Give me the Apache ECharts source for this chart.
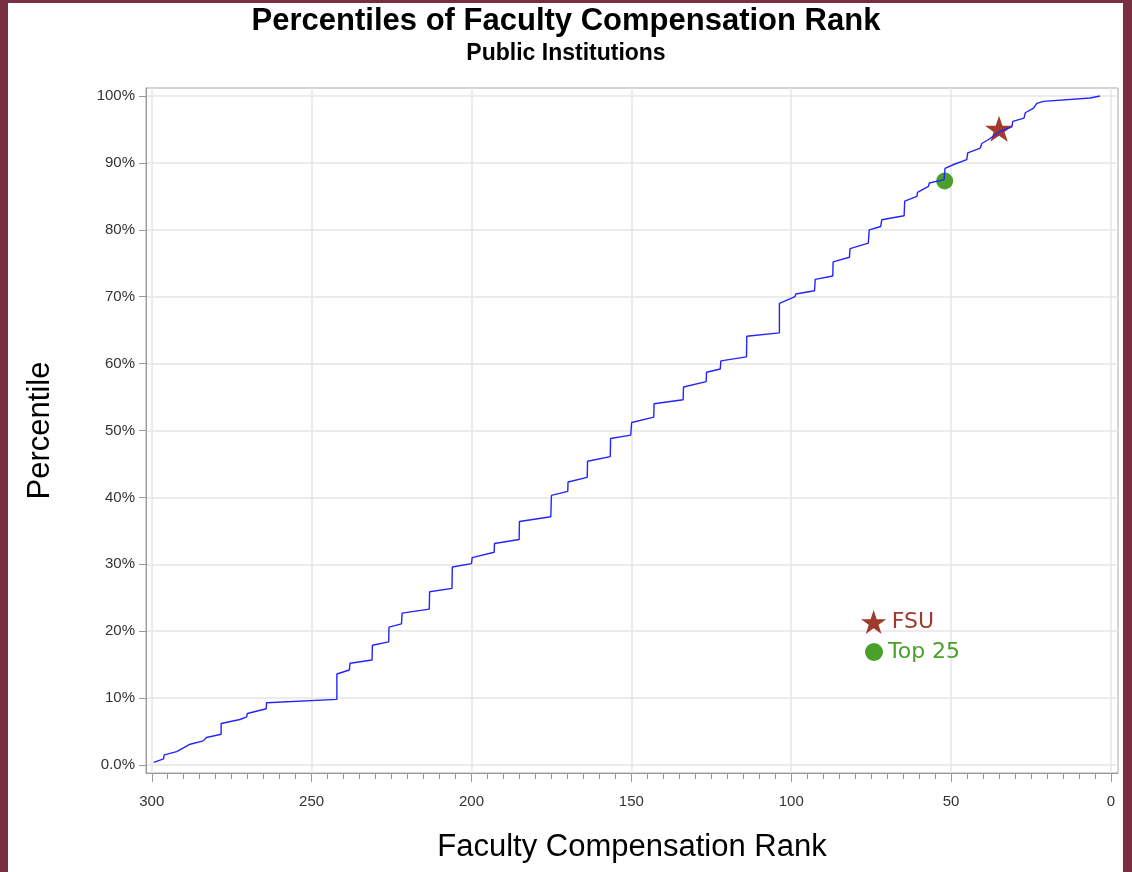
<!DOCTYPE html>
<html>
<head>
<meta charset="utf-8">
<script src="https://cdn.jsdelivr.net/npm/echarts@6/dist/echarts.min.js"></script>
<style>
html, body { margin: 0; padding: 0; background: #fff; }
#main { width: 1132px; height: 872px; }
</style>
</head>
<body>
<div id="main"></div>
<script>
// percentile curve: rank (x) and percentile in % (y)
var rankValues = [299.4, 296.3, 296.1, 292.2, 288.0, 283.9, 282.9, 278.3, 278.3, 272.4,
    270.3, 270.1, 264.2, 264.1, 242.1, 242.1, 238.2, 238.0, 231.1, 231.0,
    225.9, 225.8, 221.9, 221.7, 213.2, 213.1, 206.1, 206.0, 200.0, 199.8,
    192.9, 192.8, 185.1, 185.0, 175.2, 175.0, 169.9, 169.8, 163.8, 163.7,
    156.6, 156.5, 150.2, 149.9, 143.0, 142.9, 133.8, 133.7, 126.6, 126.5,
    122.2, 122.0, 114.0, 113.9, 103.7, 103.7, 98.8, 98.6, 92.7, 92.5,
    87.0, 86.9, 81.8, 81.6, 75.9, 75.6, 72.0, 71.7, 64.7, 64.5,
    60.7, 60.5, 57.1, 56.8, 52.2, 51.9, 49.0, 45.1, 44.8, 40.9,
    40.4, 38.3, 34.7, 31.0, 30.7, 27.2, 26.8, 24.2, 23.2, 21.1,
    6.5, 3.4];
var pctValues = [0.4, 0.9, 1.5, 2.0, 3.1, 3.6, 4.1, 4.6, 6.2, 6.8,
    7.2, 7.7, 8.4, 9.3, 9.8, 13.6, 14.2, 15.2, 15.7, 17.9,
    18.4, 20.6, 21.1, 22.7, 23.3, 25.9, 26.4, 29.6, 30.1, 31.0,
    31.8, 33.1, 33.7, 36.4, 37.1, 40.3, 40.9, 42.3, 43.0, 45.4,
    46.1, 48.8, 49.3, 51.2, 52.0, 54.0, 54.6, 56.5, 57.3, 58.7,
    59.2, 60.4, 61.0, 64.1, 64.6, 69.0, 70.0, 70.4, 70.9, 72.6,
    73.1, 75.2, 75.9, 77.2, 78.0, 80.0, 80.5, 81.5, 82.1, 84.3,
    85.0, 85.6, 86.5, 87.0, 87.5, 89.2, 89.8, 90.5, 91.5, 92.2,
    92.9, 93.5, 94.7, 95.4, 96.2, 96.7, 97.5, 98.2, 98.9, 99.2,
    99.7, 100.0];
var fsuPoint = [35.0, 95.1];
var top25Point = [52, 87.3];

var xTickValues = [0, 50, 100, 150, 200, 250, 300];
var yTickValues = [0, 10, 20, 30, 40, 50, 60, 70, 80, 90, 100];
var xMinorTicks = [];
for (var t = 5; t < 300; t += 5) {
    if (t % 50 !== 0) xMinorTicks.push(t);
}

var starPath = 'path://M50,0 L61.8,35.5 L99,35.5 L69,57.5 L80.5,93 L50,71 L19.5,93 L31,57.5 L1,35.5 L38.2,35.5 Z';
var fsuColor = '#a03a2c';
var topColor = '#4aa02a';
var font = 'Liberation Sans, Arial, sans-serif';
var legendFont = 'DejaVu Sans, sans-serif';

var curve = rankValues.map(function (r, i) { return [r, pctValues[i]]; });

var myChart = echarts.init(document.getElementById('main'));
var option = {
    backgroundColor: '#fff',
    animation: false,
    title: {
        text: 'Percentiles of Faculty Compensation Rank',
        subtext: 'Public Institutions',
        left: 'center',
        top: 1,
        itemGap: 5,
        textStyle: { fontFamily: font, fontSize: 31, fontWeight: 'bold', color: '#000' },
        subtextStyle: { fontFamily: font, fontSize: 23, fontWeight: 'bold', color: '#000' }
    },
    grid: {
        left: 146, right: 14, top: 88, bottom: 99,
        show: true, borderColor: '#a8a8a8', borderWidth: 1
    },
    legend: [{
        data: [{ name: 'FSU', icon: starPath, textStyle: { color: fsuColor } }],
        left: 856, top: 605,
        itemWidth: 26, itemHeight: 24, itemGap: 4,
        textStyle: { fontFamily: legendFont, fontSize: 22 }
    }, {
        data: [{ name: 'Top 25', icon: 'circle', textStyle: { color: topColor } }],
        left: 860, top: 636,
        itemWidth: 18, itemHeight: 18, itemGap: 6,
        textStyle: { fontFamily: legendFont, fontSize: 22 }
    }],
    xAxis: [{
        type: 'value',
        inverse: true,
        min: -2.2, max: 301.8,
        name: 'Faculty Compensation Rank',
        nameLocation: 'middle',
        nameGap: 59,
        nameTextStyle: { fontFamily: font, fontSize: 31, color: '#000' },
        axisLine: { show: true, onZero: false, lineStyle: { color: '#999' } },
        axisTick: { show: true, length: 9, customValues: xTickValues, lineStyle: { color: '#999' } },
        axisLabel: { customValues: xTickValues, margin: 21, fontFamily: font, fontSize: 15, color: '#333' },
        splitLine: { show: true, lineStyle: { color: '#e6e6e6', width: 1.5 } }
    }, {
        type: 'value',
        inverse: true,
        position: 'bottom',
        min: -2.2, max: 301.8,
        axisLine: { show: false, onZero: false },
        axisTick: { show: true, length: 6, customValues: xMinorTicks, lineStyle: { color: '#999' } },
        axisLabel: { show: false },
        splitLine: { show: false }
    }],
    yAxis: {
        type: 'value',
        min: -1.2, max: 101.2,
        name: 'Percentile',
        nameLocation: 'middle',
        nameGap: 90,
        nameTextStyle: { fontFamily: font, fontSize: 31, color: '#000' },
        axisLine: { show: true, onZero: false, lineStyle: { color: '#999' } },
        axisTick: { show: true, length: 7, customValues: yTickValues, lineStyle: { color: '#999' } },
        axisLabel: {
            customValues: yTickValues, margin: 11, fontFamily: font, fontSize: 15, color: '#333',
            formatter: function (v) { return v === 0 ? '0.0%' : v + '%'; }
        },
        splitLine: { show: true, lineStyle: { color: '#e6e6e6', width: 1.5 } }
    },
    graphic: [
        { type: 'rect', left: 0, top: 0, z: 100, shape: { width: 8, height: 872 }, style: { fill: '#7a2e42' } },
        { type: 'rect', left: 1123, top: 0, z: 100, shape: { width: 9, height: 872 }, style: { fill: '#7a2e42' } },
        { type: 'rect', left: 0, top: 0, z: 100, shape: { width: 1132, height: 3 }, style: { fill: '#7a2e42' } }
    ],
    series: [{
        name: 'Percentile',
        type: 'line',
        data: curve,
        showSymbol: false,
        z: 5,
        lineStyle: { color: '#2424ff', width: 1.4 }
    }, {
        name: 'FSU',
        type: 'scatter',
        data: [fsuPoint],
        symbol: starPath,
        symbolSize: [28, 26],
        z: 3,
        itemStyle: { color: fsuColor, opacity: 1 }
    }, {
        name: 'Top 25',
        type: 'scatter',
        data: [top25Point],
        symbol: 'circle',
        symbolSize: 17,
        z: 3,
        itemStyle: { color: topColor, opacity: 1 }
    }]
};
myChart.setOption(option);
</script>
</body>
</html>
